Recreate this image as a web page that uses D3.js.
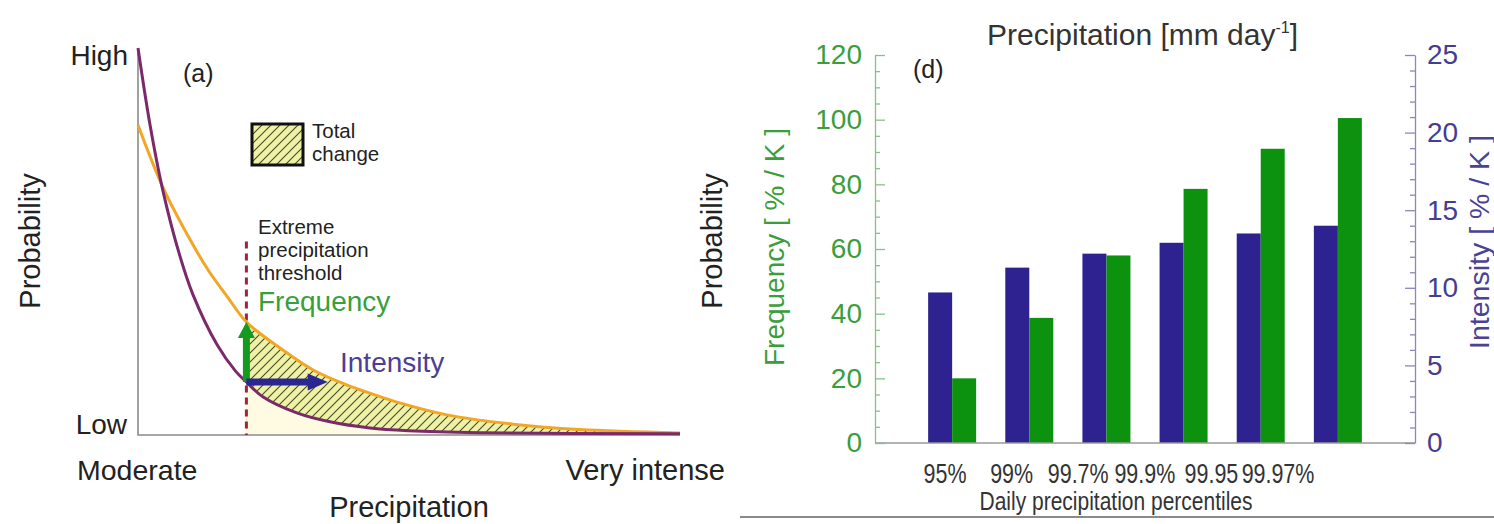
<!DOCTYPE html>
<html lang="en">
<head>
  <meta charset="UTF-8">
  <title>Extreme precipitation: frequency and intensity</title>
  <script src="https://d3js.org/d3.v7.min.js"></script>
  <style>
    body { margin: 0; background: #fff; }
    svg { display: block; font-family: "Liberation Sans", Arial, sans-serif; }
    text { fill: #222; }
  </style>
</head>
<body>
  <svg id="fig" width="1494" height="524"></svg>

  <script>
    // ---------- data: panel (a), schematic PDFs ----------
    const presentX   = [0, 2.2, 4.6, 7.7, 10.1, 14.6, 18, 20, 23.1, 29.3, 35.4, 42.8, 50, 63, 100];
    const presentP   = [100, 80.3, 63.1, 46.4, 36.4, 23.3, 16.5, 13.7, 9.8, 5.7, 3.4, 1.8, 1.1, 0.6, 0.3];
    const warmerX    = [0, 4.6, 9.6, 13, 16.6, 20, 26.2, 32.3, 38.6, 42.8, 48.3, 57, 69.2, 81.5, 100];
    const warmerP    = [80.1, 64, 50.5, 42.5, 35.5, 29.2, 22.5, 16.8, 12.9, 10.8, 8.3, 5.2, 2.8, 1.4, 0.5];
    const thresholdX = 20;
    const intensityShift = 15;

    // ---------- data: panel (d), bars ----------
    const percentiles     = ["95%", "99%", "99.7%", "99.9%", "99.95", "99.97%"];
    const frequencyChange = [20, 38.7, 58, 78.6, 91, 100.5];     // % / K
    const intensityChange = [9.7, 11.3, 12.2, 12.9, 13.5, 14.0]; // % / K
    const freqTicks = [0, 20, 40, 60, 80, 100, 120];
    const intTicks  = [0, 5, 10, 15, 20, 25];

    const svg = d3.select("#fig");
    const defs = svg.append("defs");

    // hatch pattern for "Total change"
    const pat = defs.append("pattern")
      .attr("id", "hatch")
      .attr("patternUnits", "userSpaceOnUse")
      .attr("width", 9).attr("height", 9);
    pat.append("rect").attr("width", 9).attr("height", 9).attr("fill", "#eef2a6");
    pat.append("path")
      .attr("d", "M-2,2 l4,-4 M0,9 l9,-9 M7,11 l4,-4")
      .attr("stroke", "#4a4a28").attr("stroke-width", 1.1);

    // ------------------------------------
    // Panel (a): schematic
    // ------------------------------------
    const xA = d3.scaleLinear().domain([0, 100]).range([138, 680]);
    const yA = d3.scaleLinear().domain([0, 100]).range([435, 48]);
    const gA = svg.append("g");

    const present = presentX.map((x, i) => ({x, p: presentP[i]}));
    const warmer  = warmerX.map((x, i) => ({x, p: warmerP[i]}));

    defs.append("clipPath").attr("id", "beyond")
      .append("rect")
      .attr("x", xA(thresholdX)).attr("y", yA(100))
      .attr("width", xA(100) - xA(thresholdX))
      .attr("height", yA(0) - yA(100));

    const area = d3.area()
      .x(d => xA(d.x)).y0(yA(0)).y1(d => yA(d.p))
      .curve(d3.curveCatmullRom.alpha(0.5));
    const line = d3.line()
      .x(d => xA(d.x)).y(d => yA(d.p))
      .curve(d3.curveCatmullRom.alpha(0.5));

    gA.append("path").datum(warmer).attr("d", area)
      .attr("fill", "url(#hatch)").attr("clip-path", "url(#beyond)");
    gA.append("path").datum(present).attr("d", area)
      .attr("fill", "#fffbe2").attr("clip-path", "url(#beyond)");

    // axes of the schematic
    gA.append("path")
      .attr("d", `M${xA(0)},${yA(100)}V${yA(0)}H${xA(100)}`)
      .attr("fill", "none").attr("stroke", "#8a8a8a").attr("stroke-width", 1.6);

    // threshold
    gA.append("line")
      .attr("x1", xA(thresholdX)).attr("x2", xA(thresholdX))
      .attr("y1", yA(50)).attr("y2", yA(0))
      .attr("stroke", "#a3233d").attr("stroke-width", 3)
      .attr("stroke-dasharray", "7,5");

    gA.append("path").datum(warmer).attr("d", line)
      .attr("fill", "none").attr("stroke", "#f2a626").attr("stroke-width", 3);
    gA.append("path").datum(present).attr("d", line)
      .attr("fill", "none").attr("stroke", "#7a2a6a").attr("stroke-width", 3);

    // arrows
    const pAt = presentP[presentX.indexOf(thresholdX)];
    const wAt = warmerP[warmerX.indexOf(thresholdX)];
    const ax = xA(thresholdX), ay0 = yA(pAt), ay1 = yA(wAt);
    const shaft = 3.5, head = 8.5, headLen = 16;
    gA.append("path")
      .attr("d", `M${ax - shaft},${ay0}V${ay1 + headLen}H${ax - head}L${ax},${ay1}L${ax + head},${ay1 + headLen}H${ax + shaft}V${ay0}Z`)
      .attr("fill", "#149a1e");
    const bx1 = xA(thresholdX + intensityShift);
    gA.append("path")
      .attr("d", `M${ax},${ay0 - shaft}H${bx1 - headLen - 4}V${ay0 - head}L${bx1},${ay0}L${bx1 - headLen - 4},${ay0 + head}V${ay0 + shaft}H${ax}Z`)
      .attr("fill", "#2a2792");

    // legend box
    gA.append("rect")
      .attr("x", 252).attr("y", 124).attr("width", 51).attr("height", 41)
      .attr("fill", "url(#hatch)").attr("stroke", "#111").attr("stroke-width", 3);

    const txt = (x, y, s, size, opts = {}) => gA.append("text")
      .attr("x", x).attr("y", y).text(s)
      .style("font-size", size + "px")
      .attr("text-anchor", opts.anchor || "start")
      .style("fill", opts.color || "#222");

    txt(128, 65, "High", 28, {anchor: "end"});
    txt(127, 434, "Low", 28, {anchor: "end"});
    txt(183, 82, "(a)", 25);
    txt(312, 138, "Total", 20.5);
    txt(312, 161, "change", 20.5);
    txt(258, 234, "Extreme", 20.5);
    txt(258, 257, "precipitation", 20.5);
    txt(258, 280, "threshold", 20.5);
    txt(258, 311, "Frequency", 28, {color: "#37a03a"});
    txt(340, 372, "Intensity", 28, {color: "#4a3f94"});
    txt(77, 480, "Moderate", 28.5);
    txt(725, 480, "Very intense", 29, {anchor: "end"});
    txt(409, 517, "Precipitation", 29, {anchor: "middle"});

    gA.append("text")
      .attr("transform", "translate(40,241) rotate(-90)")
      .attr("text-anchor", "middle").style("font-size", "29px")
      .text("Probability");
    // label of the neighbouring (cut) panel
    gA.append("text")
      .attr("transform", "translate(722,241) rotate(-90)")
      .attr("text-anchor", "middle").style("font-size", "29px")
      .text("Probability");

    // ------------------------------------
    // Panel (d): bar chart, two y axes
    // ------------------------------------
    const gD = svg.append("g");
    const xD = d3.scalePoint().domain(percentiles).range([875, 1415]).padding(1);
    const xLab = d3.scalePoint().domain(percentiles).range([945, 1278]);
    const yF = d3.scaleLinear().domain([0, 120]).range([443, 55]);
    const yI = d3.scaleLinear().domain([0, 25]).range([443, 55]);
    const bw = 24;

    gD.selectAll(".bar-int")
      .data(percentiles)
      .enter().append("rect")
      .attr("class", "bar-int")
      .attr("x", d => xD(d) - bw)
      .attr("y", (d, i) => yI(intensityChange[i]))
      .attr("width", bw)
      .attr("height", (d, i) => yI(0) - yI(intensityChange[i]))
      .attr("fill", "#2d2290");

    gD.selectAll(".bar-freq")
      .data(percentiles)
      .enter().append("rect")
      .attr("class", "bar-freq")
      .attr("x", d => xD(d))
      .attr("y", (d, i) => yF(frequencyChange[i]))
      .attr("width", bw)
      .attr("height", (d, i) => yF(0) - yF(frequencyChange[i]))
      .attr("fill", "#0d920f");

    // baseline
    gD.append("line")
      .attr("x1", 875).attr("x2", 1415)
      .attr("y1", yF(0)).attr("y2", yF(0))
      .attr("stroke", "#999").attr("stroke-width", 1.5);

    // left axis (frequency), major + minor ticks
    const axF = gD.append("g").attr("transform", "translate(875,0)")
      .call(d3.axisLeft(yF).tickValues(freqTicks).tickSizeInner(-10).tickSizeOuter(0).tickPadding(13));
    const axFm = gD.append("g").attr("transform", "translate(875,0)")
      .call(d3.axisLeft(yF).tickValues(d3.range(0, 121, 5).filter(v => v % 20)).tickSize(-5).tickFormat(""))
      .call(g => g.select(".domain").remove());

    // right axis (intensity), major + minor ticks
    const axI = gD.append("g").attr("transform", "translate(1415,0)")
      .call(d3.axisRight(yI).tickValues(intTicks).tickSizeInner(-10).tickSizeOuter(0).tickPadding(12));
    const axIm = gD.append("g").attr("transform", "translate(1415,0)")
      .call(d3.axisRight(yI).tickValues(d3.range(0, 26, 1).filter(v => v % 5)).tickSize(-5).tickFormat(""))
      .call(g => g.select(".domain").remove());

    [axF, axFm].forEach(a => a.selectAll(".domain, .tick line").attr("stroke", "#86c286").attr("stroke-width", 1.3));
    [axI, axIm].forEach(a => a.selectAll(".domain, .tick line").attr("stroke", "#8b88bb").attr("stroke-width", 1.3));

    axF.selectAll("text").style("font-size", "28px").style("fill", "#3a9e3a")
      .style("font-family", "'Liberation Sans', Arial, sans-serif");
    axI.selectAll("text").style("font-size", "28px").style("fill", "#453d8f")
      .style("font-family", "'Liberation Sans', Arial, sans-serif");

    // category labels (narrow type in the original)
    gD.selectAll(".cat")
      .data(percentiles)
      .enter().append("text")
      .attr("class", "cat")
      .attr("transform", d => `translate(${xLab(d)},483) scale(0.78,1)`)
      .attr("text-anchor", "middle")
      .style("font-size", "27.5px").style("fill", "#333")
      .text(d => d);

    gD.append("text")
      .attr("transform", "translate(1116,510) scale(0.84,1)")
      .attr("text-anchor", "middle").style("font-size", "25px").style("fill", "#333")
      .text("Daily precipitation percentiles");

    const title = gD.append("text")
      .attr("x", 987).attr("y", 45).style("font-size", "30px").style("fill", "#333");
    title.append("tspan").text("Precipitation [mm day");
    title.append("tspan").attr("dy", -12).style("font-size", "16px").text("-1");
    title.append("tspan").attr("dy", 12).text("]");

    gD.append("text").attr("x", 913).attr("y", 78).style("font-size", "25px").text("(d)");

    gD.append("text")
      .attr("transform", "translate(784,247) rotate(-90)")
      .attr("text-anchor", "middle").style("font-size", "28px").style("fill", "#3a9e3a")
      .text("Frequency [ % / K ]");
    gD.append("text")
      .attr("transform", "translate(1489,242) rotate(-90)")
      .attr("text-anchor", "middle").style("font-size", "28.5px").style("fill", "#4b4296")
      .text("Intensity [ % / K ]");

    // figure frame line at the bottom of the right half
    svg.append("line")
      .attr("x1", 740).attr("x2", 1494).attr("y1", 517).attr("y2", 517)
      .attr("stroke", "#8a8a8a").attr("stroke-width", 2);
  </script>
</body>
</html>
